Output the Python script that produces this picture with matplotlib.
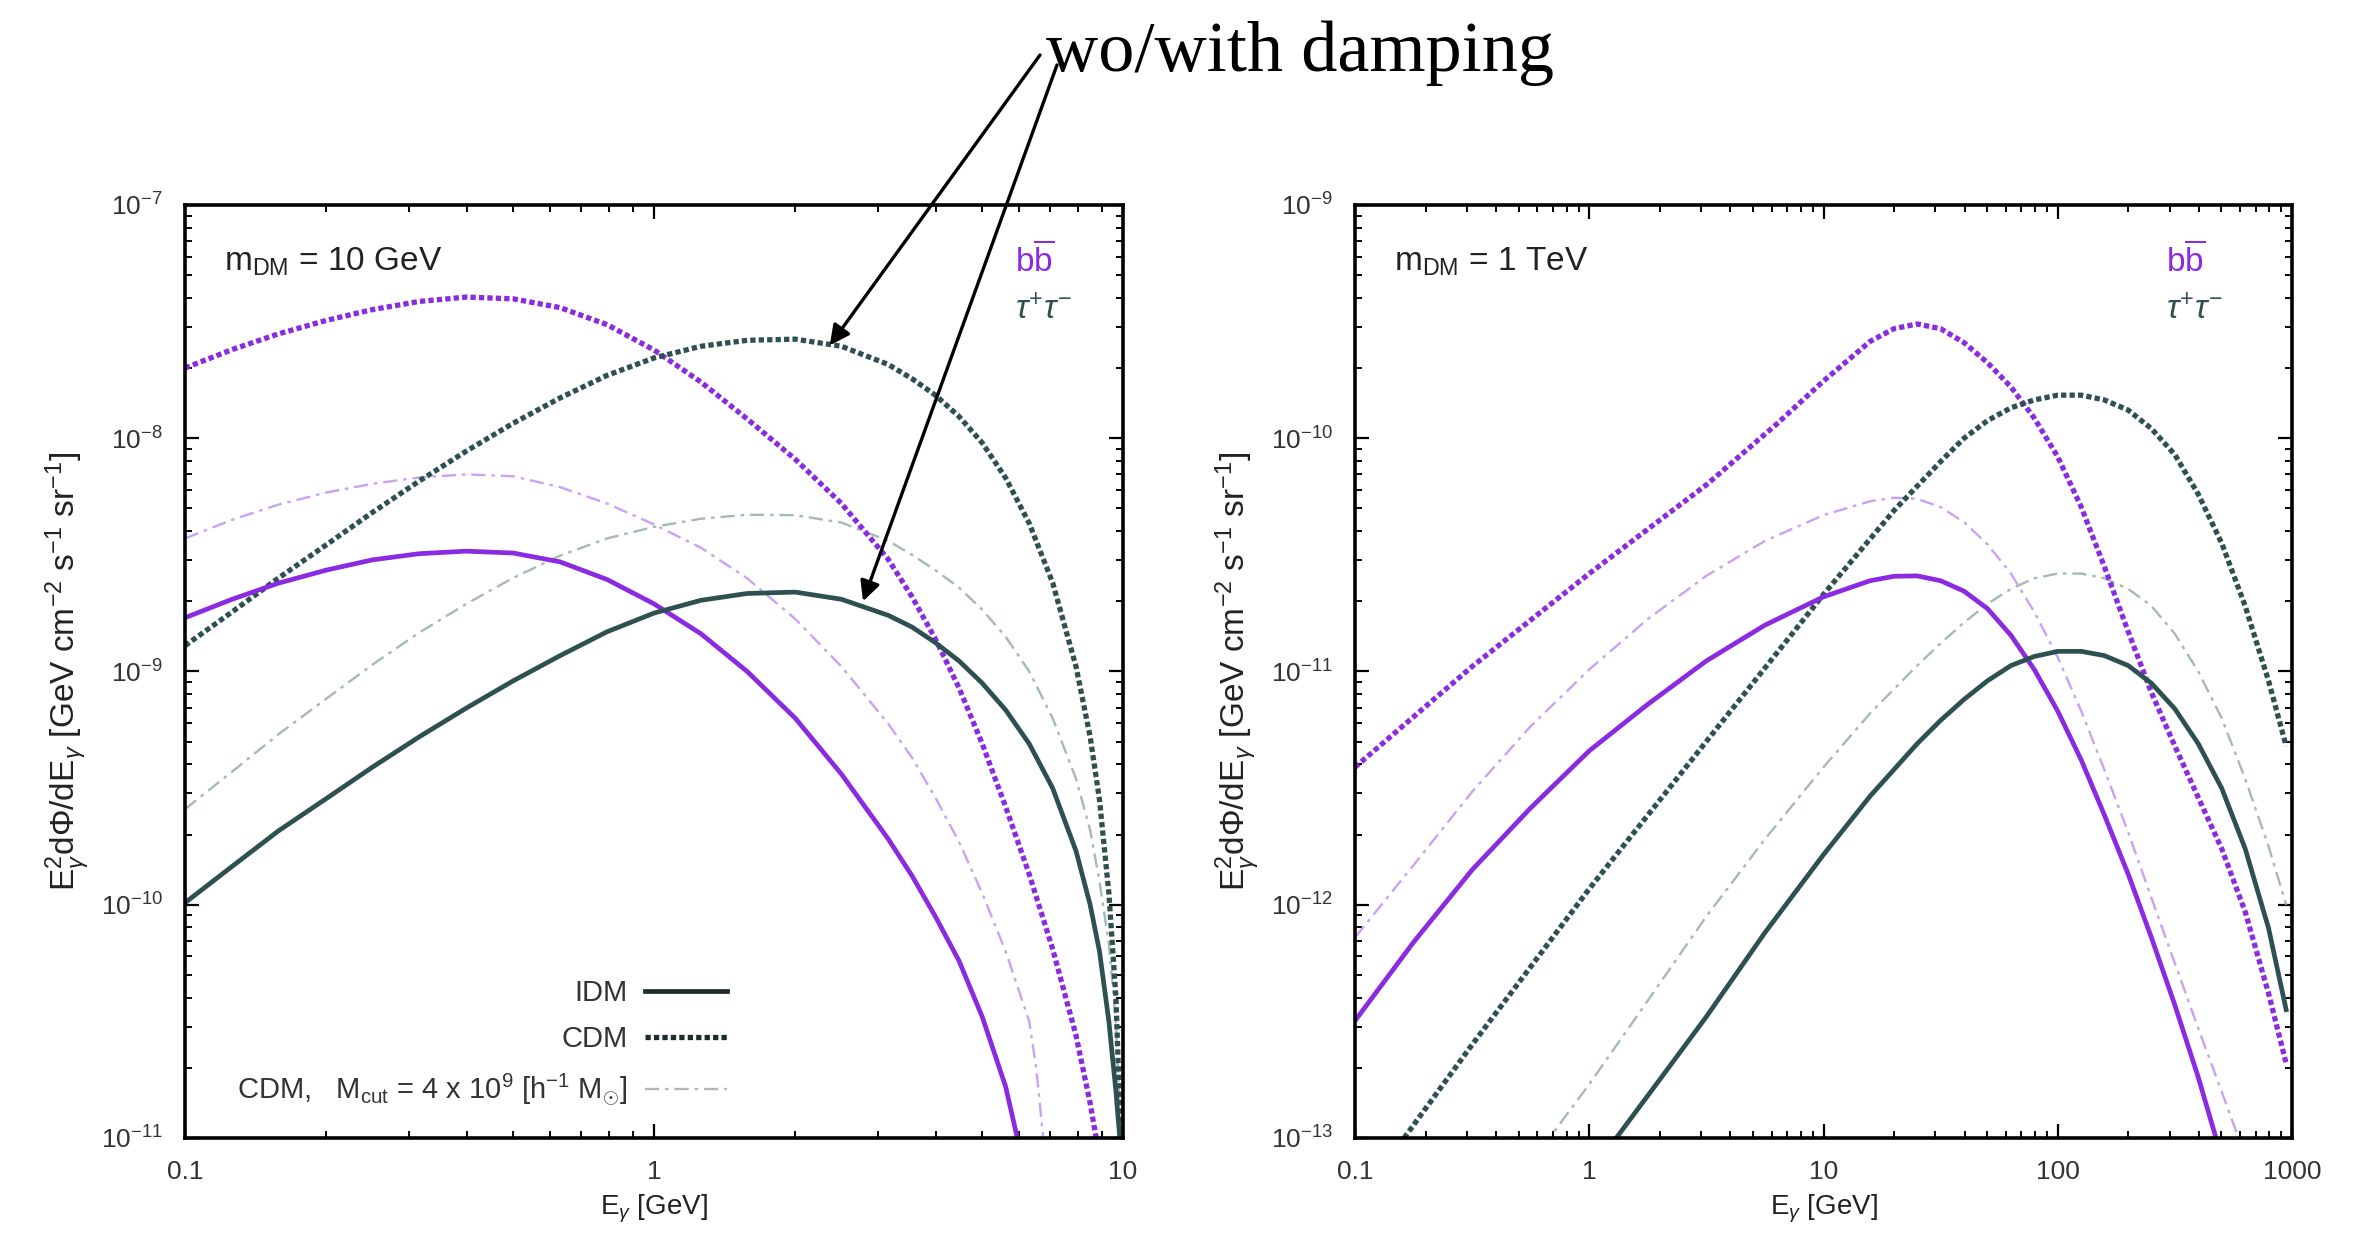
import matplotlib
matplotlib.use("Agg")
import matplotlib.pyplot as plt
from matplotlib.lines import Line2D
from matplotlib.ticker import FixedLocator, FuncFormatter, NullFormatter, LogFormatterSciNotation

plt.rcParams['font.family'] = ['Liberation Sans', 'DejaVu Sans']
plt.rcParams['mathtext.fontset'] = 'custom'
plt.rcParams['mathtext.rm'] = 'Liberation Sans'
plt.rcParams['mathtext.it'] = 'Liberation Sans:italic'
plt.rcParams['mathtext.bf'] = 'Liberation Sans:bold'

# ---------------- m_DM = 10 GeV ----------------
e10_bb_cdm = [0.1, 0.126, 0.158, 0.2, 0.251, 0.316, 0.398, 0.501, 0.631, 0.794, 1.0, 1.26, 1.58, 2.0, 2.51,
              3.16, 3.55, 3.98, 4.47, 5.01, 5.62, 6.31, 7.08, 7.94, 8.51, 8.91]
f10_bb_cdm = [2.00e-8, 2.40e-8, 2.80e-8, 3.20e-8, 3.56e-8, 3.86e-8, 4.03e-8, 3.96e-8, 3.63e-8, 3.07e-8, 2.39e-8,
              1.74e-8, 1.21e-8, 8.13e-9, 5.25e-9, 3.02e-9, 2.09e-9, 1.38e-9, 8.51e-10, 4.90e-10, 2.63e-10,
              1.35e-10, 6.46e-11, 2.75e-11, 1.41e-11, 8.3e-12]

e10_tt_cdm = [0.1, 0.126, 0.158, 0.2, 0.251, 0.316, 0.398, 0.501, 0.631, 0.794, 1.0, 1.26, 1.58, 2.0, 2.51,
              3.16, 3.55, 3.98, 4.47, 5.01, 5.62, 6.31, 7.08, 7.94, 8.51, 8.91, 9.33, 9.66, 9.89]
f10_tt_cdm = [1.29e-9, 1.80e-9, 2.51e-9, 3.49e-9, 4.81e-9, 6.56e-9, 8.81e-9, 1.16e-8, 1.49e-8, 1.86e-8, 2.21e-8,
              2.48e-8, 2.63e-8, 2.66e-8, 2.48e-8, 2.07e-8, 1.80e-8, 1.53e-8, 1.24e-8, 9.55e-9, 6.76e-9, 4.32e-9,
              2.40e-9, 1.05e-9, 5.25e-10, 2.82e-10, 1.12e-10, 3.98e-11, 1.0e-11]

e10_bb_idm = [0.1, 0.126, 0.158, 0.2, 0.251, 0.316, 0.398, 0.501, 0.631, 0.794, 1.0, 1.26, 1.58, 2.0, 2.51,
              3.16, 3.55, 3.98, 4.47, 5.01, 5.62, 6.03]
f10_bb_idm = [1.70e-9, 2.04e-9, 2.39e-9, 2.72e-9, 3.01e-9, 3.20e-9, 3.28e-9, 3.22e-9, 2.95e-9, 2.48e-9, 1.95e-9,
              1.45e-9, 1.0e-9, 6.31e-10, 3.63e-10, 1.91e-10, 1.33e-10, 8.91e-11, 5.75e-11, 3.31e-11, 1.66e-11,
              8.9e-12]

e10_tt_idm = [0.1, 0.126, 0.158, 0.2, 0.251, 0.316, 0.398, 0.501, 0.631, 0.794, 1.0, 1.26, 1.58, 2.0, 2.51,
              3.16, 3.55, 3.98, 4.47, 5.01, 5.62, 6.31, 7.08, 7.94, 8.51, 8.91, 9.33, 9.66, 9.89]
f10_tt_idm = [1.02e-10, 1.46e-10, 2.07e-10, 2.85e-10, 3.89e-10, 5.25e-10, 6.97e-10, 9.12e-10, 1.17e-9, 1.48e-9,
              1.78e-9, 2.02e-9, 2.16e-9, 2.19e-9, 2.04e-9, 1.74e-9, 1.55e-9, 1.33e-9, 1.11e-9, 8.91e-10,
              6.84e-10, 4.90e-10, 3.16e-10, 1.70e-10, 1.0e-10, 6.31e-11, 3.16e-11, 1.58e-11, 8.9e-12]

e10_bb_cut = [0.1, 0.126, 0.158, 0.2, 0.251, 0.316, 0.398, 0.501, 0.631, 0.794, 1.0, 1.26, 1.58, 2.0, 2.51,
              3.16, 3.55, 3.98, 4.47, 5.01, 5.62, 6.31, 6.53, 6.76]
f10_bb_cut = [3.72e-9, 4.47e-9, 5.19e-9, 5.85e-9, 6.38e-9, 6.79e-9, 7.00e-9, 6.87e-9, 6.17e-9, 5.25e-9, 4.27e-9,
              3.39e-9, 2.51e-9, 1.68e-9, 1.05e-9, 5.96e-10, 4.27e-10, 2.88e-10, 1.86e-10, 1.12e-10, 6.31e-11,
              3.16e-11, 2.0e-11, 1.0e-11]

e10_tt_cut = [0.1, 0.126, 0.158, 0.2, 0.251, 0.316, 0.398, 0.501, 0.631, 0.794, 1.0, 1.26, 1.58, 2.0, 2.51,
              3.16, 3.55, 3.98, 4.47, 5.01, 5.62, 6.31, 7.08, 7.94, 8.51, 8.91, 9.33, 9.66, 9.89]
f10_tt_cut = [2.57e-10, 3.72e-10, 5.37e-10, 7.64e-10, 1.07e-9, 1.47e-9, 1.95e-9, 2.52e-9, 3.14e-9, 3.72e-9,
              4.17e-9, 4.52e-9, 4.70e-9, 4.68e-9, 4.35e-9, 3.63e-9, 3.16e-9, 2.72e-9, 2.29e-9, 1.84e-9,
              1.41e-9, 1.0e-9, 6.31e-10, 3.47e-10, 2.09e-10, 1.26e-10, 6.76e-11, 3.16e-11, 1.0e-11]

# ---------------- m_DM = 1 TeV ----------------
e1000_bb_cdm = [0.1, 0.316, 1.0, 3.16, 6.31, 10, 15.8, 20.0, 25.1, 31.6, 39.8, 50.1, 63.1, 79.4, 100, 126, 158,
                200, 251, 316, 398, 501, 631, 794, 944]
f1000_bb_cdm = [3.89e-12, 1.05e-11, 2.63e-11, 6.31e-11, 1.15e-10, 1.76e-10, 2.60e-10, 2.95e-10, 3.09e-10,
                2.95e-10, 2.57e-10, 2.11e-10, 1.66e-10, 1.22e-10, 8.32e-11, 5.07e-11, 2.82e-11, 1.48e-11,
                8.13e-12, 4.79e-12, 2.88e-12, 1.74e-12, 9.33e-13, 4.17e-13, 2.09e-13]

e1000_tt_cdm = [0.162, 0.316, 1.0, 3.16, 10, 20.0, 31.6, 39.8, 50.1, 63.1, 79.4, 100, 126, 158, 200, 251, 316,
                398, 501, 631, 794, 944]
f1000_tt_cdm = [1.0e-13, 2.51e-13, 1.17e-12, 5.01e-12, 2.14e-11, 4.90e-11, 7.94e-11, 1.0e-10, 1.19e-10,
                1.35e-10, 1.46e-10, 1.53e-10, 1.53e-10, 1.46e-10, 1.32e-10, 1.10e-10, 8.51e-11, 5.75e-11,
                3.55e-11, 1.91e-11, 9.12e-12, 4.79e-12]

e1000_bb_idm = [0.1, 0.178, 0.316, 0.562, 1.0, 1.78, 3.16, 5.62, 10, 15.8, 20.0, 25.1, 31.6, 39.8, 50.1, 63.1,
                79.4, 100, 126, 158, 200, 251, 316, 398, 490]
f1000_bb_idm = [3.18e-13, 6.92e-13, 1.41e-12, 2.60e-12, 4.57e-12, 7.24e-12, 1.11e-11, 1.58e-11, 2.09e-11,
                2.45e-11, 2.56e-11, 2.57e-11, 2.45e-11, 2.21e-11, 1.86e-11, 1.43e-11, 1.02e-11, 6.76e-12,
                4.17e-12, 2.43e-12, 1.35e-12, 7.24e-13, 3.72e-13, 1.82e-13, 8.9e-14]

e1000_tt_idm = [1.26, 2.0, 3.16, 5.62, 10, 15.8, 25.1, 31.6, 39.8, 50.1, 63.1, 79.4, 100, 126, 158, 200, 251,
                316, 398, 501, 631, 794, 944]
f1000_tt_idm = [9.55e-14, 1.78e-13, 3.31e-13, 7.59e-13, 1.64e-12, 2.92e-12, 4.90e-12, 6.17e-12, 7.59e-12,
                9.12e-12, 1.06e-11, 1.16e-11, 1.22e-11, 1.22e-11, 1.17e-11, 1.06e-11, 8.91e-12, 6.92e-12,
                4.90e-12, 3.16e-12, 1.74e-12, 7.94e-13, 3.55e-13]

e1000_bb_cut = [0.1, 0.178, 0.316, 0.562, 1.0, 1.78, 3.16, 5.62, 10, 15.8, 20.0, 25.1, 31.6, 39.8, 50.1, 63.1,
                79.4, 100, 126, 158, 200, 251, 316, 398, 501, 617]
f1000_bb_cut = [7.24e-13, 1.48e-12, 3.05e-12, 5.82e-12, 1.02e-11, 1.68e-11, 2.57e-11, 3.63e-11, 4.68e-11,
                5.37e-11, 5.56e-11, 5.50e-11, 5.07e-11, 4.37e-11, 3.51e-11, 2.63e-11, 1.80e-11, 1.15e-11,
                6.76e-12, 3.80e-12, 2.04e-12, 1.07e-12, 5.62e-13, 2.95e-13, 1.58e-13, 8.9e-14]

e1000_tt_cut = [0.631, 1.0, 1.78, 3.16, 5.62, 10, 15.8, 25.1, 31.6, 39.8, 50.1, 63.1, 79.4, 100, 126, 158, 200,
                251, 316, 398, 501, 631, 794, 944]
f1000_tt_cut = [9.12e-14, 1.70e-13, 3.89e-13, 8.91e-13, 1.91e-12, 3.89e-12, 6.61e-12, 1.06e-11, 1.32e-11,
                1.62e-11, 1.95e-11, 2.26e-11, 2.51e-11, 2.63e-11, 2.63e-11, 2.51e-11, 2.26e-11, 1.91e-11,
                1.45e-11, 1.0e-11, 6.31e-12, 3.47e-12, 1.78e-12, 1.0e-12]

panel_titles = [r'm$_{\mathrm{DM}}$ = 10 GeV', r'm$_{\mathrm{DM}}$ = 1 TeV']
x_decades = [[0.1, 1, 10], [0.1, 1, 10, 100, 1000]]
y_decades = [[1e-11, 1e-10, 1e-9, 1e-8, 1e-7], [1e-13, 1e-12, 1e-11, 1e-10, 1e-9]]
legend_labels = ['IDM', 'CDM', r'CDM,   M$_{\mathrm{cut}}$ = 4 x 10$^{9}$ [h$^{-1}$ M$_{\odot}$]']

PURPLE = '#8a2be2'
TEAL = '#2e5050'
LIGHT_PURPLE = '#c9a2f2'
LIGHT_TEAL = '#a7b9b5'
TICK_GREY = '#333333'

DOTTED = (0, (1.0, 0.6))
DASHDOT = (0, (6, 2.5, 1.5, 2.5))

fig = plt.figure(figsize=(23.61, 12.40), dpi=100)
ax_l = fig.add_axes([0.07836, 0.08226, 0.39729, 0.75242])
ax_r = fig.add_axes([0.57391, 0.08226, 0.39687, 0.75242])

panels = [
    (ax_l, (e10_bb_cut, f10_bb_cut), (e10_tt_cut, f10_tt_cut), (e10_bb_cdm, f10_bb_cdm), (e10_tt_cdm, f10_tt_cdm),
     (e10_bb_idm, f10_bb_idm), (e10_tt_idm, f10_tt_idm)),
    (ax_r, (e1000_bb_cut, f1000_bb_cut), (e1000_tt_cut, f1000_tt_cut), (e1000_bb_cdm, f1000_bb_cdm),
     (e1000_tt_cdm, f1000_tt_cdm), (e1000_bb_idm, f1000_bb_idm), (e1000_tt_idm, f1000_tt_idm)),
]


def minor_positions(decades):
    # 2..9 times each decade, staying inside the axis range
    return [d * k for d in decades[:-1] for k in range(2, 10)]


for i, (ax, bb_cut, tt_cut, bb_cdm, tt_cdm, bb_idm, tt_idm) in enumerate(panels):
    ax.set_xscale('log')
    ax.set_yscale('log')
    # thin dash-dot: CDM with mass cutoff
    ax.plot(*bb_cut, color=LIGHT_PURPLE, lw=1.7, ls=DASHDOT)
    ax.plot(*tt_cut, color=LIGHT_TEAL, lw=1.7, ls=DASHDOT)
    # thick dotted: CDM
    ax.plot(*bb_cdm, color=PURPLE, lw=3.8, ls=DOTTED, dash_capstyle='butt')
    ax.plot(*tt_cdm, color=TEAL, lw=3.8, ls=DOTTED, dash_capstyle='butt')
    # solid: IDM
    ax.plot(*bb_idm, color=PURPLE, lw=3.4, solid_joinstyle='round')
    ax.plot(*tt_idm, color=TEAL, lw=3.4, solid_joinstyle='round')

    xd, yd = x_decades[i], y_decades[i]
    ax.set_xlim(xd[0], xd[-1])
    ax.set_ylim(yd[0], yd[-1])

    ax.xaxis.set_major_locator(FixedLocator(xd))
    ax.xaxis.set_minor_locator(FixedLocator(minor_positions(xd)))
    ax.xaxis.set_major_formatter(FuncFormatter(lambda v, _: f'{v:g}'))
    ax.xaxis.set_minor_formatter(NullFormatter())
    ax.yaxis.set_major_locator(FixedLocator(yd))
    ax.yaxis.set_minor_locator(FixedLocator(minor_positions(yd)))
    ax.yaxis.set_major_formatter(LogFormatterSciNotation())
    ax.yaxis.set_minor_formatter(NullFormatter())

    ax.tick_params(which='both', direction='in', top=True, right=True, color='black')
    ax.tick_params(which='major', length=10, width=1.6, labelsize=19, labelcolor=TICK_GREY)
    ax.tick_params(which='minor', length=5, width=1.4)
    ax.tick_params(axis='y', which='major', pad=16)
    ax.tick_params(axis='x', which='major', pad=16)
    for sp in ax.spines.values():
        sp.set_linewidth(2.6)

    ax.set_xlabel(r'E$_{\gamma}$ [GeV]', fontsize=20, color='#222222', labelpad=6)
    ax.set_ylabel(r'E$_{\gamma}^{2}$d$\Phi$/dE$_{\gamma}$ [GeV cm$^{-2}$ s$^{-1}$ sr$^{-1}$]',
                  fontsize=24, color='#222222', labelpad=6)

    ax.text(0.042, 0.93, panel_titles[i], transform=ax.transAxes, fontsize=24, color='#222222',
            ha='left', va='baseline')
    tx = 0.885 if i == 0 else 0.866
    ax.text(tx, 0.928, r'$\mathrm{b}\overline{\mathrm{b}}$', transform=ax.transAxes, fontsize=24,
            color=PURPLE, ha='left', va='baseline')
    ax.text(tx, 0.877, r'$\tau^{+}\tau^{-}$', transform=ax.transAxes, fontsize=24,
            color=TEAL, ha='left', va='baseline')

# legend of line styles in the left panel
handles = [
    Line2D([], [], color='#1f2a2a', lw=3.4),
    Line2D([], [], color='#1f2a2a', lw=3.8, ls=DOTTED, dash_capstyle='butt'),
    Line2D([], [], color='#b5b5b5', lw=1.7, ls=DASHDOT),
]
ax_l.legend(handles, legend_labels, loc='lower right', bbox_to_anchor=(0.59, 0.02), markerfirst=False,
            frameon=False, handlelength=2.8, handletextpad=0.6, labelspacing=0.62, fontsize=21,
            labelcolor='#333333', borderaxespad=0)

# annotation pointing at the two tau tau curves
fig.text(1046 / 2361, 1 - 71 / 1240, 'wo/with damping', fontsize=52, family='Liberation Serif',
         ha='left', va='baseline', color='black')
arrow = dict(arrowstyle='-|>', lw=2.4, color='black', mutation_scale=30, shrinkA=0, shrinkB=0)
ax_l.annotate('', xy=(2.37, 2.5e-8), xycoords='data',
              xytext=(1040 / 2361, 1 - 55 / 1240), textcoords='figure fraction', arrowprops=arrow,
              annotation_clip=False)
ax_l.annotate('', xy=(2.79, 2.0e-9), xycoords='data',
              xytext=(1057 / 2361, 1 - 65 / 1240), textcoords='figure fraction', arrowprops=arrow,
              annotation_clip=False)

fig.savefig('out.png', dpi=100, facecolor='white')
